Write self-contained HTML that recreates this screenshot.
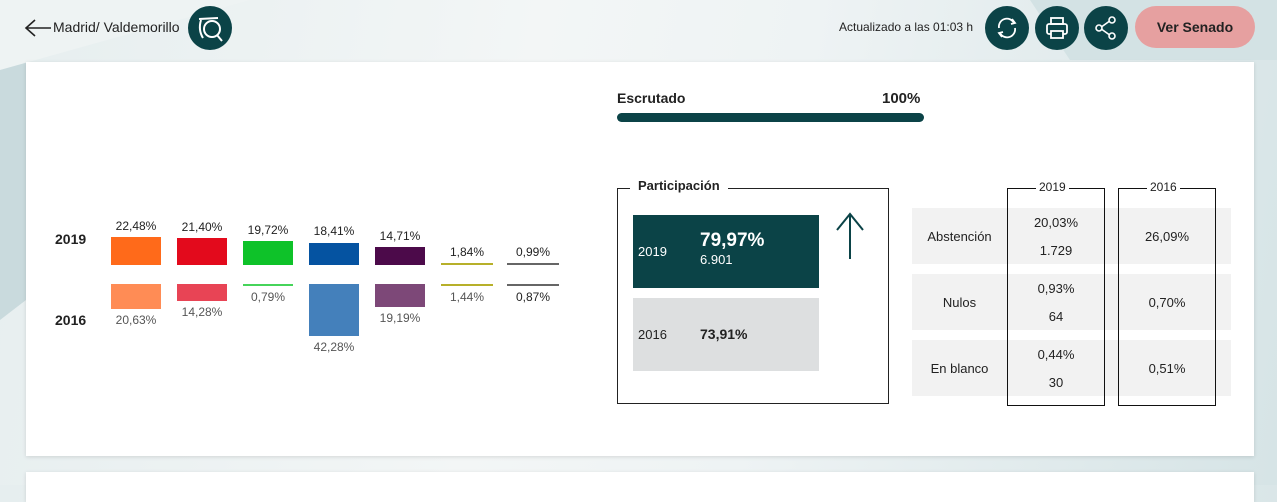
<!DOCTYPE html>
<html><head><meta charset="utf-8"><style>
*{margin:0;padding:0;box-sizing:border-box}
body{width:1277px;height:485px;overflow:hidden;font-family:"Liberation Sans",sans-serif;background:linear-gradient(100deg,#e6eeef 0%,#f3f6f6 40%,#eef3f4 60%,#d6e4e6 100%);position:relative;color:#222}
.a{position:absolute}
.card{background:#fff;box-shadow:0 1px 4px rgba(0,0,0,.12)}
.circ{width:44px;height:44px;border-radius:50%;background:#0b4347}
.t{font-size:12px;color:#222;text-align:center;width:60px}
.g{color:#555}
</style></head><body>
<svg class="a" style="left:0;top:0" width="1277" height="485">
<polygon points="0,60 26,60 26,300 0,320" fill="#c9dadd"/>
<polygon points="0,0 250,0 0,70" fill="#eef3f3"/>
<polygon points="1030,0 1277,0 1277,60 1070,60" fill="#d3e2e4"/>
</svg>
<svg class="a" style="left:24px;top:18px" width="30" height="20"><path d="M2 10 L27 10 M11 2 L2 10 L11 18" stroke="#222" stroke-width="1.6" fill="none"/></svg>
<div class="a" style="left:53px;top:19px;font-size:14px">Madrid/ Valdemorillo</div>
<div class="a circ" style="left:188px;top:6px"><svg width="44" height="44"><circle cx="24" cy="23" r="8" fill="none" stroke="#fff" stroke-width="2"/><line x1="29" y1="29" x2="34" y2="35" stroke="#fff" stroke-width="2"/><path d="M11 13 L30 12 M13 14 Q10 24 15 32" stroke="#fff" stroke-width="2" fill="none"/></svg></div>
<div class="a" style="left:839px;top:20px;font-size:12px">Actualizado a las 01:03 h</div>
<div class="a circ" style="left:985px;top:6px"><svg width="44" height="44"><path d="M14 22 A8 8 0 0 1 29 17 M30 22 A8 8 0 0 1 15 27" stroke="#fff" stroke-width="1.8" fill="none"/><path d="M27 13 L30 17 L26 18 M17 31 L14 27 L18 26" stroke="#fff" stroke-width="1.8" fill="none"/></svg></div>
<div class="a circ" style="left:1035px;top:6px"><svg width="44" height="44"><rect x="16" y="12" width="12" height="6" fill="none" stroke="#fff" stroke-width="1.8"/><rect x="12" y="18" width="20" height="10" rx="2" fill="none" stroke="#fff" stroke-width="1.8"/><rect x="16" y="25" width="12" height="7" fill="#0b4347" stroke="#fff" stroke-width="1.8"/></svg></div>
<div class="a circ" style="left:1084px;top:6px"><svg width="44" height="44"><circle cx="28" cy="14" r="3" fill="none" stroke="#fff" stroke-width="1.6"/><circle cx="15" cy="22" r="3" fill="none" stroke="#fff" stroke-width="1.6"/><circle cx="28" cy="30" r="3" fill="none" stroke="#fff" stroke-width="1.6"/><path d="M18 20.5 L25 15.5 M18 23.5 L25 28.5" stroke="#fff" stroke-width="1.6"/></svg></div>
<div class="a" style="left:1135px;top:6px;width:120px;height:42px;border-radius:21px;background:#e6a0a0;font-size:14px;font-weight:bold;line-height:42px;text-align:center;color:#222">Ver Senado</div>

<div class="a card" style="left:26px;top:62px;width:1228px;height:394px"></div>
<div class="a card" style="left:26px;top:472px;width:1228px;height:30px"></div>

<div class="a" style="left:55px;top:231px;font-size:14px;font-weight:bold">2019</div>
<div class="a" style="left:55px;top:312px;font-size:14px;font-weight:bold">2016</div>

<div class="a" style="left:111px;top:237px;width:50px;height:28px;background:#ff6a1a"></div>
<div class="a" style="left:177px;top:238px;width:50px;height:27px;background:#e30a1c"></div>
<div class="a" style="left:243px;top:241px;width:50px;height:24px;background:#0ec229"></div>
<div class="a" style="left:309px;top:243px;width:50px;height:22px;background:#0553a1"></div>
<div class="a" style="left:375px;top:247px;width:50px;height:18px;background:#4c0a4a"></div>
<div class="a" style="left:441px;top:263px;width:52px;height:2px;background:#b7b02a"></div>
<div class="a" style="left:507px;top:263px;width:52px;height:2px;background:#666"></div>

<div class="a" style="left:111px;top:284px;width:50px;height:25px;background:#ff8c55"></div>
<div class="a" style="left:177px;top:284px;width:50px;height:17px;background:#e84455"></div>
<div class="a" style="left:243px;top:284px;width:50px;height:2px;background:#46d45a"></div>
<div class="a" style="left:309px;top:284px;width:50px;height:52px;background:#4480bb"></div>
<div class="a" style="left:375px;top:284px;width:50px;height:23px;background:#7d4878"></div>
<div class="a" style="left:441px;top:284px;width:52px;height:2px;background:#b7b02a"></div>
<div class="a" style="left:507px;top:284px;width:52px;height:2px;background:#666"></div>

<div class="a t" style="left:106px;top:219px">22,48%</div>
<div class="a t" style="left:172px;top:220px">21,40%</div>
<div class="a t" style="left:238px;top:223px">19,72%</div>
<div class="a t" style="left:304px;top:224px">18,41%</div>
<div class="a t" style="left:370px;top:229px">14,71%</div>
<div class="a t" style="left:437px;top:245px">1,84%</div>
<div class="a t" style="left:503px;top:245px">0,99%</div>
<div class="a t g" style="left:106px;top:313px">20,63%</div>
<div class="a t g" style="left:172px;top:305px">14,28%</div>
<div class="a t g" style="left:238px;top:290px">0,79%</div>
<div class="a t g" style="left:304px;top:340px">42,28%</div>
<div class="a t g" style="left:370px;top:311px">19,19%</div>
<div class="a t g" style="left:437px;top:290px">1,44%</div>
<div class="a t" style="left:503px;top:290px">0,87%</div>

<div class="a" style="left:617px;top:90px;font-size:14px;font-weight:bold">Escrutado</div>
<div class="a" style="left:882px;top:90px;font-size:15px;font-weight:bold">100%</div>
<div class="a" style="left:617px;top:113px;width:307px;height:9px;border-radius:5px;background:#0b4347"></div>

<div class="a" style="left:617px;top:188px;width:272px;height:216px;border:1px solid #222"></div>
<div class="a" style="left:630px;top:178px;padding:0 8px;background:#fff;font-size:13px;font-weight:bold">Participación</div>
<div class="a" style="left:633px;top:215px;width:186px;height:73px;background:#0b4347;color:#fff">
<div class="a" style="left:5px;top:29px;font-size:13px">2019</div>
<div class="a" style="left:67px;top:15px;font-size:19px;font-weight:bold">79,97%</div>
<div class="a" style="left:67px;top:37px;font-size:13px">6.901</div></div>
<div class="a" style="left:633px;top:298px;width:186px;height:73px;background:#dddfe0">
<div class="a" style="left:5px;top:29px;font-size:13px">2016</div>
<div class="a" style="left:67px;top:28px;font-size:14px;font-weight:bold">73,91%</div></div>
<svg class="a" style="left:830px;top:210px" width="40" height="55"><path d="M20 4 L20 49 M7 20 L20 4 L33 20" stroke="#0b4347" stroke-width="2" fill="none"/></svg>

<div class="a" style="left:912px;top:208px;width:319px;height:56px;background:#f2f2f2"></div>
<div class="a" style="left:912px;top:274px;width:319px;height:56px;background:#f2f2f2"></div>
<div class="a" style="left:912px;top:340px;width:319px;height:56px;background:#f2f2f2"></div>
<div class="a" style="left:1007px;top:188px;width:98px;height:218px;border:1px solid #111"></div>
<div class="a" style="left:1118px;top:188px;width:98px;height:218px;border:1px solid #111"></div>
<div class="a" style="left:1036px;top:180px;padding:0 3px;background:#fff;font-size:12px">2019</div>
<div class="a" style="left:1147px;top:180px;padding:0 3px;background:#fff;font-size:12px">2016</div>
<div class="a" style="left:912px;top:229px;width:95px;text-align:center;font-size:13px">Abstención</div>
<div class="a" style="left:912px;top:295px;width:95px;text-align:center;font-size:13px">Nulos</div>
<div class="a" style="left:912px;top:361px;width:95px;text-align:center;font-size:13px">En blanco</div>
<div class="a" style="left:1007px;top:215px;width:98px;text-align:center;font-size:13px">20,03%</div>
<div class="a" style="left:1007px;top:243px;width:98px;text-align:center;font-size:13px">1.729</div>
<div class="a" style="left:1007px;top:281px;width:98px;text-align:center;font-size:13px">0,93%</div>
<div class="a" style="left:1007px;top:309px;width:98px;text-align:center;font-size:13px">64</div>
<div class="a" style="left:1007px;top:347px;width:98px;text-align:center;font-size:13px">0,44%</div>
<div class="a" style="left:1007px;top:375px;width:98px;text-align:center;font-size:13px">30</div>
<div class="a" style="left:1118px;top:229px;width:98px;text-align:center;font-size:13px">26,09%</div>
<div class="a" style="left:1118px;top:295px;width:98px;text-align:center;font-size:13px">0,70%</div>
<div class="a" style="left:1118px;top:361px;width:98px;text-align:center;font-size:13px">0,51%</div>
</body></html>
